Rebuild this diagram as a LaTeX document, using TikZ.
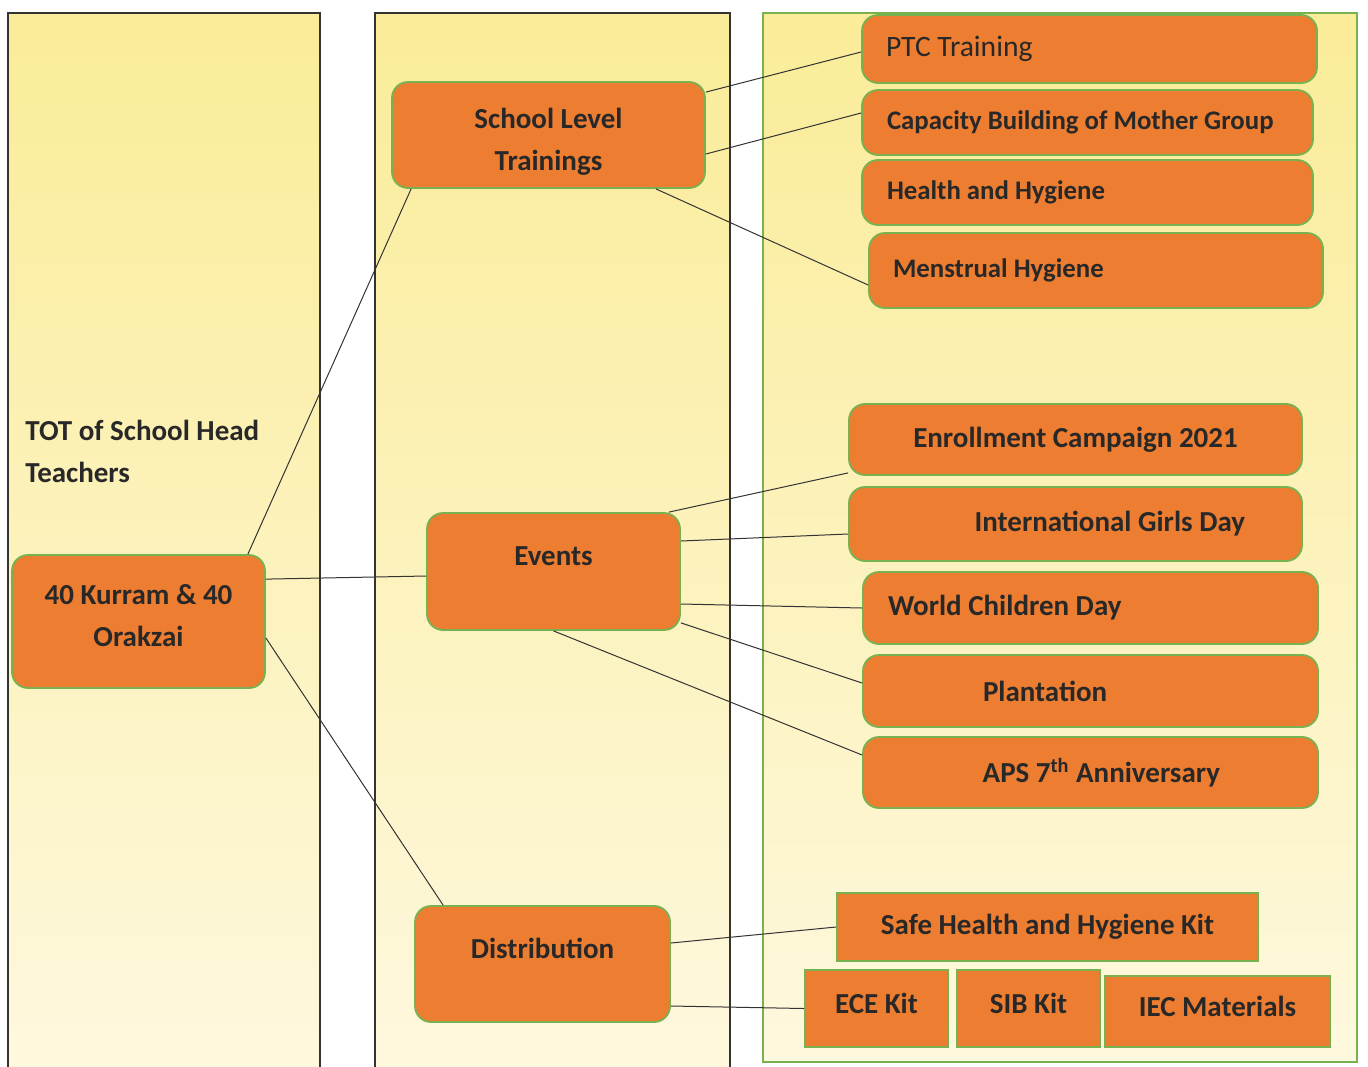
\documentclass[tikz,border=0pt]{standalone}
\usepackage{fontspec}
\setmainfont{Carlito}
\usepackage{tikz}
\usetikzlibrary{calc}
\definecolor{boxfill}{RGB}{237,125,49}
\definecolor{boxline}{RGB}{120,178,80}
\definecolor{paneltop}{RGB}{250,236,152}
\definecolor{panelbot}{RGB}{254,248,222}
\definecolor{textcol}{RGB}{40,40,40}
\tikzset{panel/.style = {top color=paneltop, bottom color=panelbot, draw=black!80, line width=0.7pt}}
\tikzset{item/.style = {draw=boxline, fill=boxfill, line width=0.9pt, rounded corners=8pt, text=textcol, font=\bfseries\fontsize{14.5}{21}\selectfont, align=center, inner sep=0pt}}
\tikzset{flat/.style = {item, rounded corners=0pt, text height=10pt, text depth=5.5pt}}
\tikzset{small/.style = {font=\bfseries\fontsize{13.4}{16}\selectfont}}
\tikzset{link/.style = {draw=black!80, line width=0.5pt}}

\begin{document}
\begin{tikzpicture}[x=0.5pt, y=-0.5pt]
                    \useasboundingbox (0,0) rectangle (1368,1066);
                    \draw[panel] (8,13) rectangle (320,1068);
                    \draw[panel] (375,13) rectangle (730,1068);
                    \draw[panel, draw=boxline] (763,13) rectangle (1357,1062);

                    \node[font=\bfseries\fontsize{14.5}{21}\selectfont, text=textcol, align=left, anchor=north west, inner sep=0pt] (tot) at (25,420) {TOT of School Head\\Teachers};
                    \node[item, minimum width=126.5pt, minimum height=66.5pt] (kur) at (138.5,621.5) {40 Kurram \& 40\\Orakzai\rule[-6pt]{0pt}{6pt}};

                    \node[item, minimum width=156.5pt, minimum height=53pt] (slt) at (548.5,135) {\rule{0pt}{17pt}School Level\\Trainings};
                    \node[item, minimum width=126.5pt, minimum height=58.5pt, text height=10pt, text depth=16pt] (evt) at (553.5,571.5) {Events};
                    \node[item, minimum width=127.5pt, minimum height=58pt, text height=10pt, text depth=16pt] (dis) at (542.5,964) {Distribution};

                    \node[item, font=\fontsize{14.8}{18}\selectfont, align=flush left, text width=203.5pt, inner xsep=12pt, minimum height=34pt] (ptc) at (1089.5,49) {PTC Training};
                    \node[item, small, align=flush left, text width=200.5pt, inner xsep=12.5pt, minimum height=32.5pt] (cap) at (1087.5,122.5) {Capacity Building of Mother Group};
                    \node[item, small, align=flush left, text width=200.5pt, inner xsep=12.5pt, minimum height=32.5pt] (hh) at (1087.5,192.5) {Health and Hygiene};
                    \node[item, small, align=flush left, text width=203pt, inner xsep=12pt, minimum height=37.5pt] (men) at (1096,270.5) {Menstrual Hygiene};

                    \node[item, minimum width=226.5pt, minimum height=35.5pt] (enr) at (1075.5,439.5) {Enrollment Campaign 2021};
                    \node[item, align=flush right, text width=169.5pt, inner xsep=28.5pt, minimum height=37pt] (igd) at (1075.5,524) {International Girls Day};
                    \node[item, align=flush left, text width=202.5pt, inner xsep=12.5pt, minimum height=36pt] (wcd) at (1090.5,608) {World Children Day};
                    \node[item, align=flush left, text width=107.5pt, inner xsep=60pt, minimum height=36pt] (pla) at (1090.5,691) {Plantation};
                    \node[item, align=flush right, text width=129.5pt, inner xsep=49pt, minimum height=35.5pt] (aps) at (1090.5,772.5) {APS 7\textsuperscript{th} Anniversary};

                    \node[flat, minimum width=210.5pt, minimum height=34pt, text depth=3pt] (saf) at (1047.5,927) {Safe Health and Hygiene Kit};
                    \node[flat, minimum width=71.5pt, minimum height=38.5pt] (ece) at (876.5,1008.5) {ECE Kit};
                    \node[flat, minimum width=71.5pt, minimum height=38.5pt] (sib) at (1028.5,1008.5) {SIB Kit};
                    \node[flat, minimum width=112.5pt, minimum height=35.5pt] (iec) at (1217.5,1011.5) {IEC Materials};

                    \draw[link] ([xshift=-9pt]kur.north east) -- ([xshift=10pt]slt.south west);
                    \draw[link] ([yshift=-12.5pt]kur.north east) -- ([yshift=-2.25pt]evt.west);
                    \draw[link] ([yshift=-8.25pt]kur.east) -- ([xshift=14.5pt]dis.north west);

                    \draw[link] ([yshift=-5.5pt]slt.north east) -- ([yshift=-1.5pt]ptc.west);
                    \draw[link] ([yshift=-9.5pt]slt.east) -- ([yshift=4.75pt]cap.west);
                    \draw[link] ([xshift=-25pt]slt.south east) -- ([yshift=-7.25pt]men.west);

                    \draw[link] ([xshift=-6pt]evt.north east) -- ([yshift=1.5pt]enr.south west);
                    \draw[link] ([yshift=15.25pt]evt.east) -- ([yshift=-5pt]igd.west);
                    \draw[link] ([yshift=-16.25pt]evt.east) -- (wcd.west);
                    \draw[link] ([yshift=4pt]evt.south east) -- ([yshift=4pt]pla.west);
                    \draw[link] (evt.south) -- ([yshift=8.75pt]aps.west);

                    \draw[link] ([yshift=10.5pt]dis.east) -- (saf.west);
                    \draw[link] ([yshift=-21pt]dis.east) -- (ece.west);
                \end{tikzpicture}
\end{document}
